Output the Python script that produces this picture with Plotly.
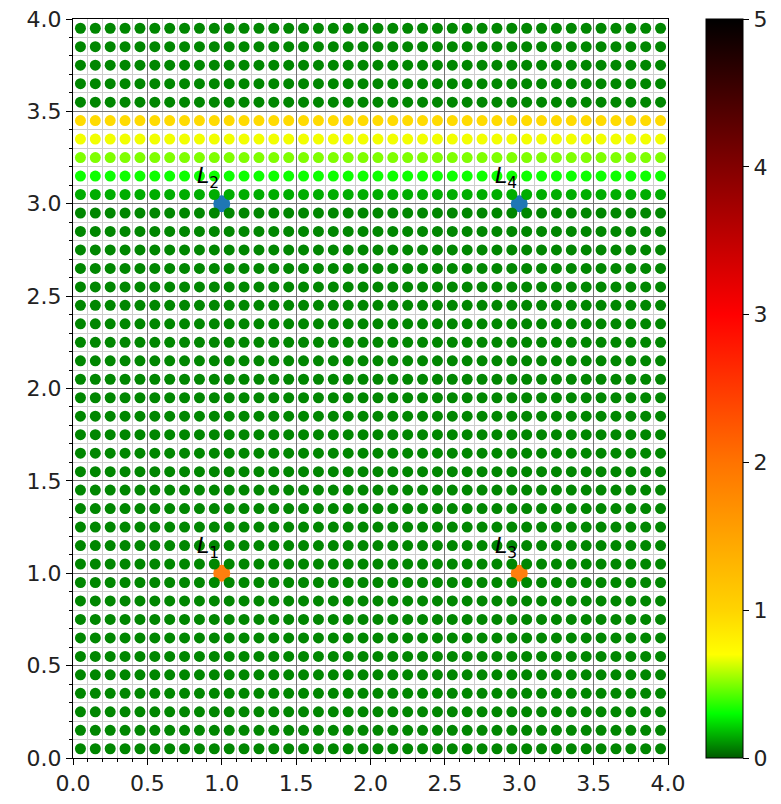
import numpy as np
import plotly.graph_objects as go

# grid of sample points (cell centres, step 0.1)
x_centers = [round(0.05 + 0.1 * i, 2) for i in range(40)]
y_centers = [round(0.05 + 0.1 * j, 2) for j in range(40)]

# row values (by y centre); all others take base_value
base_value = 0.08
row_values = {3.05: 0.15, 3.15: 0.32, 3.25: 0.5, 3.35: 0.68, 3.45: 0.95}

# special points
light_x = [1.0, 3.0, 1.0, 3.0]
light_y = [1.0, 1.0, 3.0, 3.0]
light_subs = ["1", "3", "2", "4"]
light_colors = ["#ff7f0e", "#ff7f0e", "#1f77b4", "#1f77b4"]

colorscale = [
    [0.0, "rgb(0,90,0)"],
    [0.06, "rgb(0,255,0)"],
    [0.14, "rgb(255,255,0)"],
    [0.2, "rgb(255,212,0)"],
    [0.4, "rgb(255,115,0)"],
    [0.6, "rgb(255,0,0)"],
    [0.8, "rgb(130,0,0)"],
    [1.0, "rgb(0,0,0)"],
]

xs, ys, vs = [], [], []
for yv in y_centers:
    for xv in x_centers:
        xs.append(xv)
        ys.append(yv)
        vs.append(row_values.get(yv, base_value))

FS = 22
fig = go.Figure()

fig.add_trace(go.Scatter(
    x=light_x, y=light_y, mode="markers",
    marker=dict(color=light_colors, size=17, line=dict(width=0)),
    showlegend=False, hoverinfo="skip"))

fig.add_trace(go.Scatter(
    x=xs, y=ys, mode="markers",
    marker=dict(color=vs, colorscale=colorscale, cmin=0, cmax=5, size=11,
                line=dict(width=0),
                showscale=True,
                colorbar=dict(x=(706 - 73) / 595, xanchor="left", xref="paper",
                              xpad=0, ypad=0,
                              y=0.5, yanchor="middle", len=1, lenmode="fraction",
                              thickness=37, thicknessmode="pixels",
                              outlinecolor="black", outlinewidth=1,
                              tickmode="array", tickvals=[0, 1, 2, 3, 4, 5],
                              ticktext=["0", "1", "2", "3", "4", "5"],
                              ticks="outside", ticklen=6, tickcolor="black",
                              ticklabeloverflow="allow",
                              tickfont=dict(size=FS, color="#222"))),
    showlegend=False, hoverinfo="skip"))

for lx, ly, sub in zip(light_x, light_y, light_subs):
    fig.add_annotation(x=lx - 0.09, y=ly + 0.14, text="<i>L</i><sub>" + sub + "</sub>",
                       showarrow=False, font=dict(size=FS, color="black"))

axis_common = dict(
    range=[0, 4], dtick=0.5, tick0=0, tickformat=".1f",
    showgrid=True, gridcolor="rgb(115,115,115)", gridwidth=1,
    ticks="outside", ticklen=6, tickcolor="black",
    showline=True, linecolor="black", linewidth=1, mirror=True,
    zeroline=False, tickfont=dict(size=FS, color="#222"),
    ticklabeloverflow="allow",
    minor=dict(dtick=0.1, tick0=0, showgrid=True, gridcolor="rgb(205,205,205)",
               gridwidth=1, ticks="outside", ticklen=3, tickcolor="black"),
)

fig.update_xaxes(**axis_common)
fig.update_yaxes(**axis_common)

fig.update_layout(
    width=781, height=804,
    margin=dict(l=65, r=121, t=11, b=54, autoexpand=False),
    plot_bgcolor="white", paper_bgcolor="white",
    font=dict(family="DejaVu Sans"),
)

fig.write_html("out.html")
